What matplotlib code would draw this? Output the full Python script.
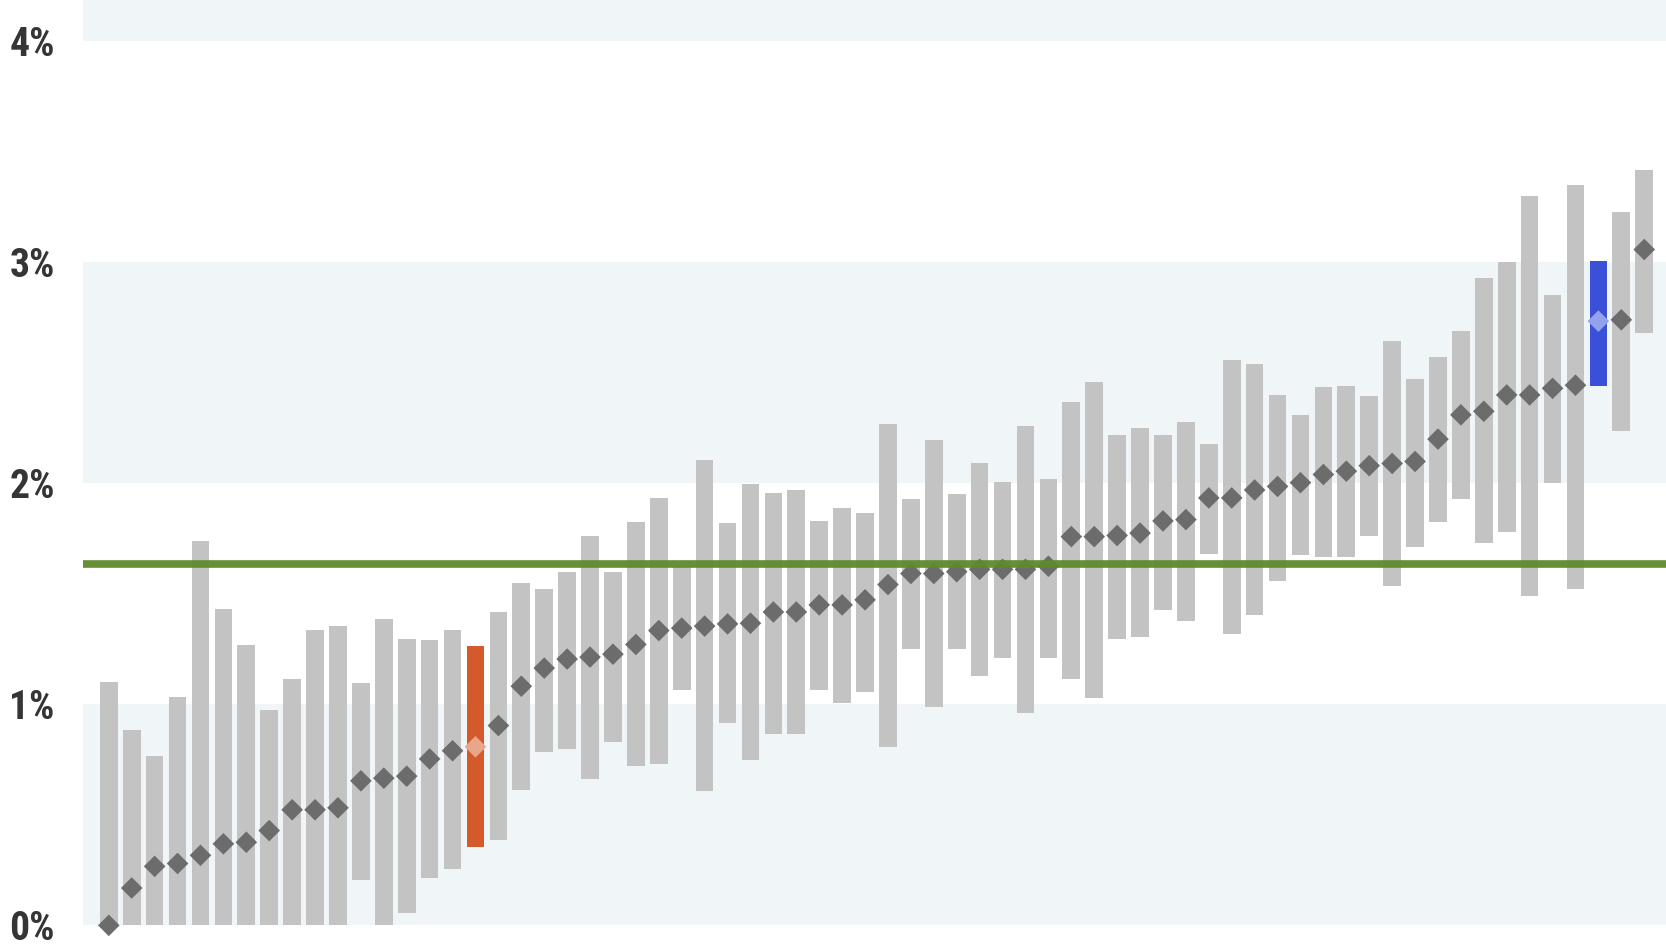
import matplotlib
matplotlib.use("Agg")
import matplotlib.pyplot as plt
from matplotlib import font_manager
import numpy as np

# range of each bar (percent) and the diamond marker value
low = [0, 0, 0, 0, 0, 0, 0, 0, 0, 0,
       0, 0.205, 0, 0.056, 0.214, 0.253, 0.353, 0.384, 0.611, 0.786,
       0.80, 0.66, 0.83, 0.72, 0.729, 1.067, 0.607, 0.917, 0.748, 0.866,
       0.867, 1.067, 1.004, 1.055, 0.808, 1.249, 0.989, 1.249, 1.129, 1.208,
       0.959, 1.208, 1.115, 1.027, 1.296, 1.307, 1.425, 1.378, 1.679, 1.318,
       1.405, 1.556, 1.674, 1.666, 1.666, 1.764, 1.537, 1.712, 1.825, 1.93,
       1.73, 1.78, 1.49, 2.003, 1.523, 2.44, 2.238, 2.682]
high = [1.10, 0.883, 0.765, 1.033, 1.74, 1.43, 1.27, 0.973, 1.115, 1.338,
        1.356, 1.097, 1.385, 1.295, 1.292, 1.335, 1.264, 1.419, 1.551, 1.523,
        1.60, 1.762, 1.60, 1.825, 1.932, 1.62, 2.107, 1.82, 1.998, 1.956,
        1.97, 1.828, 1.888, 1.867, 2.27, 1.93, 2.197, 1.95, 2.09, 2.008,
        2.26, 2.02, 2.37, 2.46, 2.219, 2.249, 2.219, 2.277, 2.178, 2.556,
        2.54, 2.40, 2.31, 2.436, 2.44, 2.395, 2.644, 2.474, 2.573, 2.69,
        2.93, 3.0, 3.30, 2.85, 3.348, 3.005, 3.227, 3.419]
mid = [0, 0.169, 0.267, 0.28, 0.317, 0.369, 0.376, 0.429, 0.523, 0.523,
       0.532, 0.654, 0.666, 0.675, 0.753, 0.79, 0.808, 0.904, 1.082, 1.164,
       1.205, 1.214, 1.227, 1.271, 1.334, 1.345, 1.354, 1.364, 1.367, 1.418,
       1.418, 1.45, 1.45, 1.473, 1.542, 1.592, 1.592, 1.60, 1.611, 1.611,
       1.611, 1.625, 1.759, 1.759, 1.764, 1.775, 1.83, 1.836, 1.934, 1.934,
       1.97, 1.986, 2.003, 2.04, 2.055, 2.08, 2.09, 2.099, 2.2, 2.31,
       2.326, 2.40, 2.40, 2.43, 2.444, 2.734, 2.74, 3.058]
highlight = {16: ("#d45a2c", "#e9a68b"), 65: ("#3a50d8", "#94a2ec")}
reference_level = 1.633
y_ticks = [0, 1, 2, 3, 4]
y_labels = ["0%", "1%", "2%", "3%", "4%"]

BAR_GREY = "#c3c3c3"
DIAMOND_GREY = "#6c6c6c"
BAND = "#f0f5f7"
GREEN = "#5d8a2a"

installed = {f.name for f in font_manager.fontManager.ttflist}
label_font = "Roboto"
for name in ("Liberation Sans Narrow", "Roboto Condensed"):
    if name in installed:
        label_font = name
        break

fig = plt.figure(figsize=(16.66, 9.51), dpi=100)
ax = fig.add_axes([83 / 1666, 0, 1 - 83 / 1666, 1])

x = np.arange(len(mid))
lo = np.array(low)
hi = np.array(high)
bar_colors = [highlight[i][0] if i in highlight else BAR_GREY for i in x]
dot_colors = [highlight[i][1] if i in highlight else DIAMOND_GREY for i in x]

# alternating background bands
for b in (0, 2, 4):
    ax.axhspan(b, b + 1, color=BAND, lw=0, zorder=0)

ax.bar(x, hi - lo, bottom=lo, width=0.77, color=bar_colors, lw=0, zorder=2)
ax.scatter(x, mid, marker="D", s=11 ** 2, c=dot_colors, lw=0, zorder=3)
ax.axhline(reference_level, color=GREEN, lw=5.5, alpha=0.95, zorder=4)

ax.set_xlim(-1.126, 67.95)
ax.set_ylim(-0.116, 4.187)
ax.set_xticks([])
ax.set_yticks(y_ticks)
ax.set_yticklabels(y_labels, fontsize=28.5, fontweight="bold",
                   family=label_font, color="#353535")
for lab in ax.get_yticklabels():
    lab.set_horizontalalignment("left")
ax.tick_params(axis="y", length=0, pad=53)
for s in ax.spines.values():
    s.set_visible(False)

fig.savefig("out.png", dpi=100)
